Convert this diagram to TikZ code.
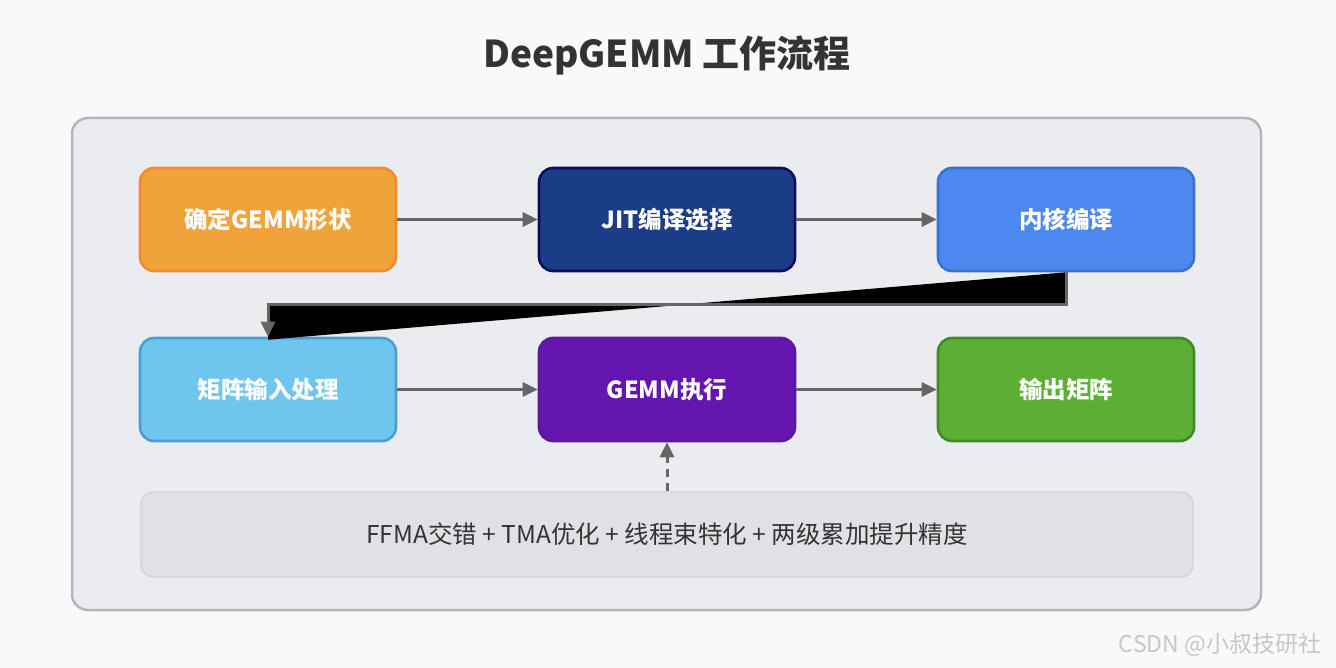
\documentclass[tikz,border=0pt]{standalone}
\usepackage{fontspec}
\setmainfont{Noto Sans CJK SC}
\usetikzlibrary{arrows.meta}
\definecolor{pagebg}{HTML}{F8F9FA}
\definecolor{panelfill}{HTML}{EBECEF}
\definecolor{paneldraw}{HTML}{B4B6BA}
\definecolor{notefill}{HTML}{DFE1E5}
\definecolor{notedraw}{HTML}{D2D4D8}
\definecolor{arrowgray}{HTML}{666666}
\definecolor{textdark}{HTML}{333333}
\definecolor{shapefill}{HTML}{F1A33B}
\definecolor{shapedraw}{HTML}{F28A2E}
\definecolor{jitfill}{HTML}{1B3C87}
\definecolor{jitdraw}{HTML}{0C0E5E}
\definecolor{kernfill}{HTML}{4D87F0}
\definecolor{kerndraw}{HTML}{3A72D0}
\definecolor{inputfill}{HTML}{6EC6EE}
\definecolor{inputdraw}{HTML}{4C9DD3}
\definecolor{execfill}{HTML}{6515B0}
\definecolor{execdraw}{HTML}{5A1AA0}
\definecolor{outfill}{HTML}{5CAE35}
\definecolor{outdraw}{HTML}{3F8A28}
\tikzset{
	stepnode/.style={rectangle,rounded corners=14pt,line width=2.6pt,minimum width=256pt,minimum height=103pt,text=white,font=\fontsize{23.5}{27}\selectfont\bfseries},
	flow/.style={line width=3pt,draw=arrowgray,-{Triangle[length=15pt,width=14pt]}}
}
\begin{document}
\begin{tikzpicture}[x=1pt,y=-1pt]
				\fill[pagebg] (0,0) rectangle (1336,668);
				\useasboundingbox (0,0) rectangle (1336,668);
				\coordinate (T) at (667,55);
				\coordinate (P1) at (268,219.5);
				\coordinate (P2) at (667,219.5);
				\coordinate (P3) at (1066,219.5);
				\coordinate (Q1) at (268,389.5);
				\coordinate (Q2) at (667,389.5);
				\coordinate (Q3) at (1066,389.5);
				\coordinate (N) at (667,534.5);
				\draw (T) node [font=\fontsize{37}{42}\selectfont\bfseries,text=textdark] {DeepGEMM 工作流程};
				\draw[fill=panelfill,draw=paneldraw,line width=2.5pt,rounded corners=16pt] (72,118) rectangle (1261,610);
				\node[stepnode,fill=shapefill,draw=shapedraw] (shape) at (P1) {确定GEMM形状};
				\node[stepnode,fill=jitfill,draw=jitdraw] (jit) at (P2) {JIT编译选择};
				\node[stepnode,fill=kernfill,draw=kerndraw] (kern) at (P3) {内核编译};
				\node[stepnode,fill=inputfill,draw=inputdraw] (matin) at (Q1) {矩阵输入处理};
				\node[stepnode,fill=execfill,draw=execdraw] (exec) at (Q2) {GEMM执行};
				\node[stepnode,fill=outfill,draw=outdraw] (matout) at (Q3) {输出矩阵};
				\node[rectangle,rounded corners=12pt,line width=1.4pt,fill=notefill,draw=notedraw,minimum width=1052pt,minimum height=85pt,text=textdark,font=\fontsize{24.5}{28}\selectfont] (note) at (N) {FFMA交错 + TMA优化 + 线程束特化 + 两级累加提升精度};
				\coordinate (K1) at (1066,305);
				\coordinate (K2) at (268,305);
				\fill[black] (kern.south) -- (K1) -- (K2) -- ([yshift=-3pt]matin.north) -- cycle;
				\draw[flow] (shape) -- (jit);
				\draw[flow] (jit) -- (kern);
				\draw[flow] (kern.south) -- (K1) -- (K2) -- (matin.north);
				\draw[flow] (matin) -- (exec);
				\draw[flow] (exec) -- (matout);
				\draw[flow,dash pattern=on 8pt off 6pt] (note) -- (exec);
				\draw (1220,645) node [font=\fontsize{23}{26}\selectfont,text=black!22] {CSDN @小叔技研社};
			\end{tikzpicture}
\end{document}
